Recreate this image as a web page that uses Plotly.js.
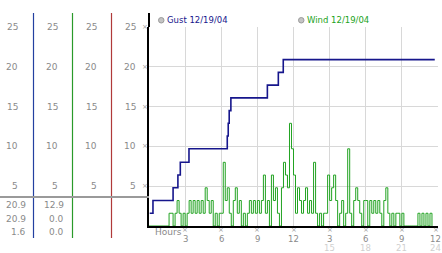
<!DOCTYPE html>
<html><head><meta charset="utf-8">
<script src="https://cdn.plot.ly/plotly-3.0.1.min.js"></script>
<style>html,body{margin:0;padding:0;background:#fff;overflow:hidden}</style>
</head><body><div id="chart" style="width:442px;height:253px"></div>
<script>
// ---- data ----
const gustHours  = [0.06, 0.33, 2.0, 2.4, 2.6, 3.32, 6.5, 6.58, 6.66, 6.8, 9.83, 10.74, 11.15, 23.73];
const gustValues = [1.6, 3.2, 4.8, 6.4, 8.0, 9.7, 11.3, 12.9, 14.5, 16.1, 17.7, 19.3, 20.9, 20.9];
const windStepHours = 1/6;   // one reading every 10 minutes
const windValues = [
  0,0,0,0,0,0,
  0,0,0,0,1.6,1.6,
  0,1.6,3.2,1.6,0,1.6,
  0,1.6,3.2,1.6,3.2,1.6,
  3.2,1.6,3.2,1.6,4.8,3.2,
  1.6,3.2,0,1.6,0,1.6,
  1.6,8.0,3.2,4.8,1.6,0,
  3.2,4.8,1.6,3.2,0,1.6,
  0,1.6,3.2,1.6,3.2,1.6,
  3.2,1.6,3.2,6.4,1.6,3.2,
  0,6.4,3.2,4.8,1.6,0,
  4.8,8.0,6.4,4.8,12.9,9.7,
  6.4,1.6,4.8,3.2,1.6,3.2,
  4.8,1.6,3.2,1.6,8.0,1.6,
  0,1.6,0,1.6,1.6,6.4,
  3.2,4.8,6.4,3.2,0,1.6,
  3.2,0,1.6,9.7,1.6,0,
  3.2,4.8,3.2,1.6,0,3.2,
  3.2,0,3.2,1.6,3.2,1.6,
  3.2,1.6,0,3.2,4.8,1.6,
  0,1.6,0,1.6,1.6,0,
  1.6,0,0,0,0,0,
  0,0,1.6,0,1.6,0,
  1.6,0,1.6,0
];
const yTicks = [5, 10, 15, 20, 25];
const xTickHours = [3, 6, 9, 12, 15, 18, 21, 24];
const xTickText  = ["3","6","9","12","3","6","9","12"];
const xTickText24 = ["15","18","21","24"];
const xTick24Hours = [15, 18, 21, 24];
const gustStats = ["20.9", "20.9", "1.6"];
const windStats = ["12.9", "0.0", "0.0"];
const legendNames = ["Gust 12/19/04", "Wind 12/19/04"];

// ---- layout helpers (pixel -> paper) ----
const L = 149, R = 438, T = 27, B = 226;
const px = v => (v - L) / (R - L);
const py = v => (B - v) / (B - T);

const FONT = "DejaVu Sans, Verdana, sans-serif";
const grey = "#8a8a8a";
const navy = "#16168c";
const green = "#22a322";

const windHours = windValues.map((v, i) => i * windStepHours);

const traces = [
  {x: windHours, y: windValues, type: "scatter", mode: "lines",
   line: {color: green, width: 1, shape: "hv"}, name: legendNames[1], hoverinfo: "skip"},
  {x: gustHours, y: gustValues, type: "scatter", mode: "lines",
   line: {color: navy, width: 1.6, shape: "hv"}, name: legendNames[0], hoverinfo: "skip"}
];

const ann = [];
const colRight = [20, 60, 99, 138];
colRight.forEach(cx => {
  yTicks.forEach(t => ann.push({xref: "paper", yref: "y", x: px(cx), y: t, xanchor: "right", yanchor: "middle",
    text: String(t), showarrow: false, font: {family: FONT, size: 9, color: grey}}));
});
// small tick marks
yTicks.forEach(t => ann.push({xref: "paper", yref: "y", x: px(145), y: t, xanchor: "center", yanchor: "middle",
  text: "×", showarrow: false, font: {family: FONT, size: 7, color: "#a0a0a0"}}));
xTickHours.forEach((h, i) => ann.push({xref: "x", yref: "paper", x: h, y: py(230), xanchor: "center", yanchor: "middle",
  xshift: i === xTickHours.length - 1 ? -2 : 0,
  text: "×", showarrow: false, font: {family: FONT, size: 7, color: "#a0a0a0"}}));
// stats
const statY = [205, 218.5, 232];
gustStats.forEach((s, i) => ann.push({xref: "paper", yref: "paper", x: px(28), y: py(statY[i]), xanchor: "right", yanchor: "middle",
  text: s, showarrow: false, font: {family: FONT, size: 9, color: grey}}));
windStats.forEach((s, i) => ann.push({xref: "paper", yref: "paper", x: px(66), y: py(statY[i]), xanchor: "right", yanchor: "middle",
  text: s, showarrow: false, font: {family: FONT, size: 9, color: grey}}));
// x tick labels
xTickHours.forEach((h, i) => ann.push({xref: "x", yref: "paper", x: h, y: py(238.5), xanchor: "center", yanchor: "middle",
  xshift: i === xTickHours.length - 1 ? -3 : 0,
  text: xTickText[i], showarrow: false, font: {family: FONT, size: 8.5, color: grey}}));
xTick24Hours.forEach((h, i) => ann.push({xref: "x", yref: "paper", x: h, y: py(247.5), xanchor: "center", yanchor: "middle",
  xshift: i === xTick24Hours.length - 1 ? -3 : 0,
  text: xTickText24[i], showarrow: false, font: {family: FONT, size: 8.5, color: "#d0d0d0"}}));
ann.push({xref: "paper", yref: "paper", x: px(153), y: py(232), xanchor: "left", yanchor: "middle",
  text: "Hours", showarrow: false, font: {family: FONT, size: 9, color: grey}});
// legend
ann.push({xref: "paper", yref: "paper", x: px(165), y: py(20), xanchor: "left", yanchor: "middle",
  text: legendNames[0], showarrow: false, font: {family: FONT, size: 8.5, color: navy}});
ann.push({xref: "paper", yref: "paper", x: px(305), y: py(20), xanchor: "left", yanchor: "middle",
  text: legendNames[1], showarrow: false, font: {family: FONT, size: 8.5, color: green}});

const shapes = [
  // extended y axis line
  {type: "line", xref: "paper", yref: "paper", x0: 0, x1: 0, y0: 1, y1: py(13), line: {color: "#000", width: 2}},
  // left panel column lines
  {type: "line", xref: "paper", yref: "paper", x0: px(33.5), x1: px(33.5), y0: py(13), y1: py(238), line: {color: "#2340a0", width: 1.2}},
  {type: "line", xref: "paper", yref: "paper", x0: px(72.5), x1: px(72.5), y0: py(13), y1: py(238), line: {color: "#2a9a2a", width: 1.2}},
  {type: "line", xref: "paper", yref: "paper", x0: px(111.5), x1: px(111.5), y0: py(13), y1: py(238), line: {color: "#b03a3a", width: 1.2}},
  // grey separator
  {type: "line", xref: "paper", yref: "paper", x0: px(0), x1: 0, y0: py(197), y1: py(197), line: {color: "#9a9a9a", width: 2}},
  // legend dots
  {type: "circle", xref: "paper", yref: "paper", x0: px(158.5), x1: px(164), y0: py(17.5), y1: py(23), fillcolor: "#c4c4c4", line: {color: "#9a9a9a", width: 1}},
  {type: "circle", xref: "paper", yref: "paper", x0: px(298.5), x1: px(304), y0: py(17.5), y1: py(23), fillcolor: "#c4c4c4", line: {color: "#9a9a9a", width: 1}}
];

const layout = {
  width: 442, height: 253,
  margin: {l: L, r: 442 - R, t: T, b: 253 - B, pad: 0},
  paper_bgcolor: "#fff", plot_bgcolor: "#fff",
  showlegend: false,
  xaxis: {range: [0, 24], tickmode: "array", tickvals: [0].concat(xTickHours), showticklabels: false,
    showgrid: true, gridcolor: "#d8d8d8", gridwidth: 1, zeroline: false,
    showline: true, linecolor: "#000", linewidth: 2, ticks: "", fixedrange: true},
  yaxis: {range: [0, 25], tickmode: "array", tickvals: yTicks, showticklabels: false,
    showgrid: true, gridcolor: "#d8d8d8", gridwidth: 1, zeroline: false,
    showline: true, linecolor: "#000", linewidth: 2, ticks: "", fixedrange: true},
  annotations: ann,
  shapes: shapes,
  font: {family: FONT}
};

Plotly.newPlot("chart", traces, layout, {staticPlot: true, displayModeBar: false});
</script></body></html>
